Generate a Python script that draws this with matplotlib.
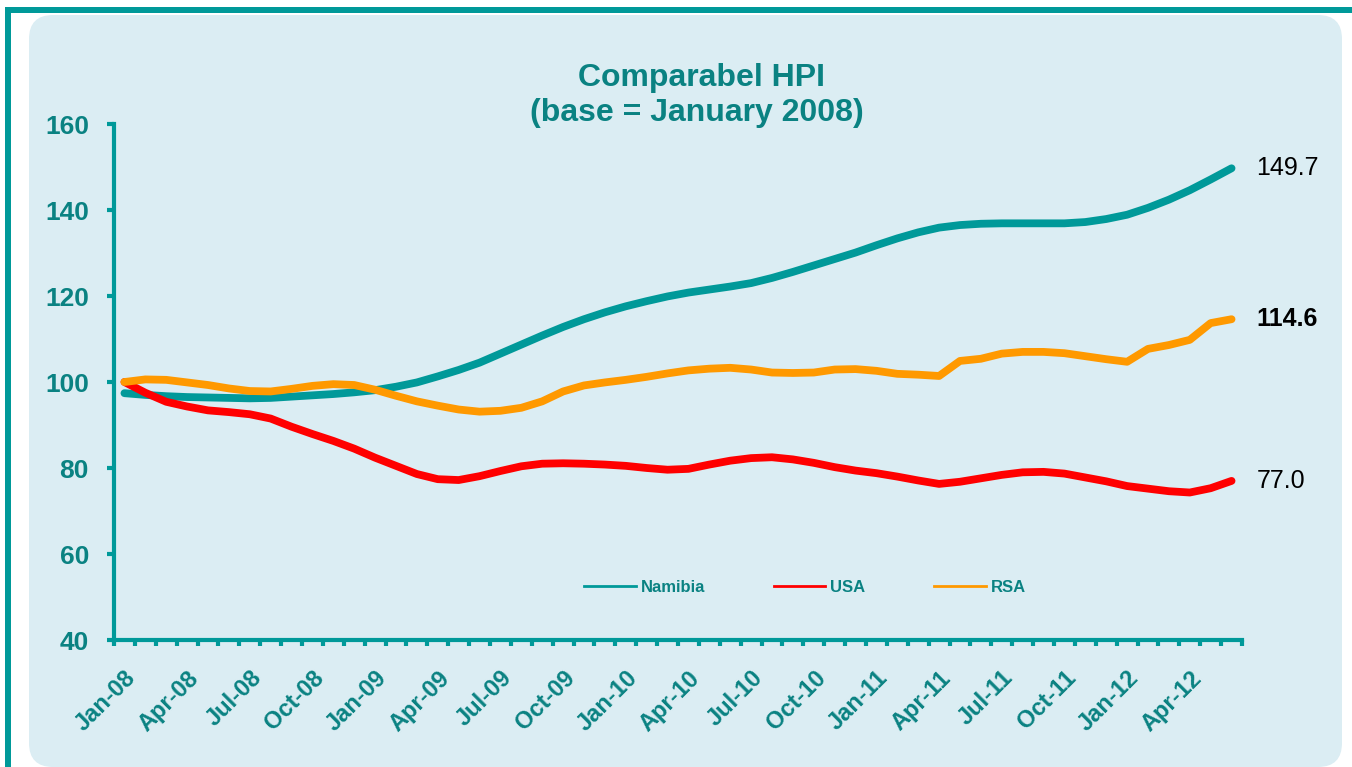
import numpy as np
import matplotlib.pyplot as plt
from matplotlib.patches import FancyBboxPatch, Rectangle
from matplotlib.lines import Line2D

# monthly index values, Jan-08 .. Jun-12 (base = January 2008)
namibia = [97.4, 97.0, 96.7, 96.5, 96.4, 96.3, 96.2, 96.3, 96.6, 96.9,
           97.2, 97.6, 98.1, 98.9, 99.9, 101.3, 102.8, 104.5, 106.6, 108.7,
           110.8, 112.8, 114.6, 116.2, 117.6, 118.8, 119.9, 120.8, 121.5, 122.2,
           123.0, 124.2, 125.6, 127.1, 128.6, 130.1, 131.8, 133.4, 134.8, 135.9,
           136.5, 136.8, 136.9, 136.9, 136.9, 136.9, 137.2, 137.9, 138.9, 140.5,
           142.4, 144.6, 147.1, 149.7]
usa = [100.0, 97.5, 95.4, 94.3, 93.4, 93.0, 92.5, 91.5, 89.6, 87.9,
       86.3, 84.5, 82.4, 80.5, 78.6, 77.4, 77.2, 78.1, 79.3, 80.4,
       81.0, 81.1, 81.0, 80.8, 80.5, 80.0, 79.6, 79.8, 80.8, 81.7,
       82.3, 82.5, 82.0, 81.2, 80.2, 79.4, 78.8, 78.0, 77.1, 76.3,
       76.8, 77.6, 78.4, 79.0, 79.1, 78.7, 77.8, 76.9, 75.8, 75.2,
       74.6, 74.3, 75.3, 77.0]
rsa = [100.0, 100.6, 100.5, 99.9, 99.3, 98.5, 97.9, 97.8, 98.4, 99.1,
       99.5, 99.3, 98.2, 96.8, 95.5, 94.5, 93.6, 93.1, 93.3, 94.0,
       95.5, 97.8, 99.2, 99.9, 100.5, 101.2, 102.0, 102.7, 103.1, 103.3,
       102.9, 102.2, 102.1, 102.2, 102.9, 103.0, 102.6, 101.9, 101.7, 101.4,
       104.9, 105.4, 106.6, 107.0, 107.0, 106.7, 106.0, 105.3, 104.7, 107.7,
       108.6, 109.8, 113.7, 114.6]
tick_labels = ['Jan-08', 'Apr-08', 'Jul-08', 'Oct-08', 'Jan-09', 'Apr-09',
               'Jul-09', 'Oct-09', 'Jan-10', 'Apr-10', 'Jul-10', 'Oct-10',
               'Jan-11', 'Apr-11', 'Jul-11', 'Oct-11', 'Jan-12', 'Apr-12']
series_names = ['Namibia', 'USA', 'RSA']

TEAL = '#009999'
TEXT = '#0A8282'
RED = '#FF0000'
ORANGE = '#FF9900'
PANEL = '#DBEDF3'

plt.rcParams['font.family'] = ['Liberation Sans', 'DejaVu Sans']

fig = plt.figure(figsize=(13.52, 7.67), dpi=100)

# outer frame and rounded background panel (inches from bottom-left)
fig.add_artist(Rectangle((0.05, 7.54), 13.47, 0.06, transform=fig.dpi_scale_trans,
                         facecolor=TEAL, edgecolor='none', zorder=-2))
fig.add_artist(Rectangle((0.05, 0.0), 0.06, 7.60, transform=fig.dpi_scale_trans,
                         facecolor=TEAL, edgecolor='none', zorder=-2))
fig.add_artist(FancyBboxPatch((0.29, 0.0), 13.13, 7.52,
                              boxstyle='round,pad=0,rounding_size=0.24',
                              transform=fig.dpi_scale_trans,
                              facecolor=PANEL, edgecolor='none', zorder=-1))

ax = fig.add_axes([114 / 1352, 127 / 767, 1128 / 1352, 516 / 767])
ax.set_facecolor('none')

x = np.arange(len(namibia))
for vals, col in [(namibia, TEAL), (usa, RED), (rsa, ORANGE)]:
    ax.plot(x, vals, color=col, lw=5.6, solid_capstyle='round',
            solid_joinstyle='round', zorder=3)

ax.set_xlim(-0.5, len(namibia) - 0.5)
ax.set_ylim(40, 160)

for s in ['top', 'right']:
    ax.spines[s].set_visible(False)
for s in ['left', 'bottom']:
    ax.spines[s].set_color(TEAL)
    ax.spines[s].set_linewidth(3)

ax.set_yticks(np.arange(40, 161, 20))
ax.tick_params(axis='y', direction='out', length=5, width=3, color=TEAL,
               pad=13, labelsize=19, labelcolor=TEXT)
for lbl in ax.get_yticklabels():
    lbl.set_fontweight('bold')

ax.set_xticks(np.arange(0, len(namibia), 3))
ax.set_xticklabels(tick_labels)
ax.set_xticks(np.arange(-0.5, len(namibia), 1), minor=True)
ax.tick_params(axis='x', which='major', length=0, pad=19, labelsize=17,
               labelcolor=TEXT)
ax.tick_params(axis='x', which='minor', direction='out', length=4, width=3,
               color=TEAL)
for lbl in ax.get_xticklabels():
    lbl.set_fontweight('bold')
    lbl.set_rotation(45)
    lbl.set_ha('right')
    lbl.set_va('top')
    lbl.set_rotation_mode('anchor')

# end labels
ax.annotate(f'{namibia[-1]:.1f}', xy=(x[-1], namibia[-1]), xytext=(18, 0),
            textcoords='offset points', ha='left', va='center', fontsize=18,
            color='black')
ax.annotate(f'{rsa[-1]:.1f}', xy=(x[-1], rsa[-1]), xytext=(18, 0),
            textcoords='offset points', ha='left', va='center', fontsize=18,
            color='black', fontweight='bold')
ax.annotate(f'{usa[-1]:.1f}', xy=(x[-1], usa[-1]), xytext=(18, 0),
            textcoords='offset points', ha='left', va='center', fontsize=18,
            color='black')

handles = [Line2D([], [], color=c, lw=2) for c in [TEAL, RED, ORANGE]]
ax.legend(handles, series_names, loc='center', bbox_to_anchor=(0.6126, 0.1027),
          ncol=3, frameon=False, handlelength=3.1, handletextpad=0.3,
          columnspacing=4.1, prop={'weight': 'bold', 'size': 12},
          labelcolor=TEXT)

fig.text(701 / 1352, 1 - 78 / 767, 'Comparabel HPI', ha='center', va='center',
         fontsize=23, fontweight='bold', color=TEXT)
fig.text(697 / 1352, 1 - 113 / 767, '(base = January 2008)', ha='center',
         va='center', fontsize=23, fontweight='bold', color=TEXT)

fig.savefig('out.png', dpi=100, facecolor='white')
